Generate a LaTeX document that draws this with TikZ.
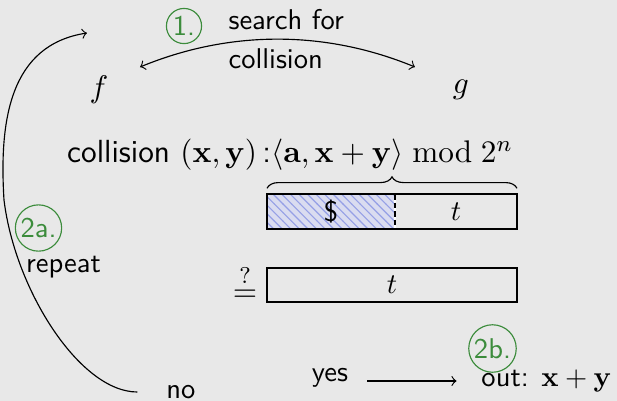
\documentclass[tikz,border=0pt]{standalone}
\usepackage{amsmath}
\usetikzlibrary{decorations.pathreplacing,patterns}
\renewcommand\familydefault{\sfdefault}
\definecolor{bggray}{RGB}{232,232,232}
\definecolor{numgreen}{RGB}{60,140,60}
\definecolor{hatchfill}{RGB}{218,220,240}
\definecolor{hatchline}{RGB}{150,160,230}
\begin{document}
\begin{tikzpicture}[x=0.35pt,y=-0.35pt,
  num/.style={circle,draw=numgreen,text=numgreen,inner sep=0.7pt,font=\sffamily},
  lbl/.style={font=\sffamily,inner sep=0pt},
  big/.style={font=\fontsize{11.2}{13}\selectfont,inner sep=0pt},
  cell/.style={draw,inner sep=0pt,outer sep=0pt,minimum height=35*0.35pt},
  hatched/.style={preaction={fill=hatchfill},pattern=north west lines,pattern color=hatchline}]
\fill[bggray] (0,0) rectangle (617,401);
\useasboundingbox (0,0) rectangle (617,401);

\node[num] (n1) at (184,26) {1.};
\node[lbl,anchor=west,align=left] (search) at (228,39) {search for\\[1.6pt]collision};
\node[big] (f) at (99,90) {$f$};
\node[big] (g) at (461,90) {$g$};
\coordinate (fa) at (140,67);
\coordinate (ga) at (415,67);
\draw[<->] (fa) .. controls (230,30) and (325,30) .. (ga);

\node[big] (coll) at (290,155) {collision $(\mathbf{x},\mathbf{y})$\,:$\langle\mathbf{a},\mathbf{x}+\mathbf{y}\rangle \bmod 2^n$};

\node[cell,hatched,minimum width=128*0.35pt] (rnd) at (331,211.5) {\$};
\node[cell,minimum width=122*0.35pt] (tag) at (456,211.5) {$t$};
\draw[white,semithick] (rnd.north east) -- (rnd.south east);
\draw[dashed,dash pattern=on 2pt off 1pt] (rnd.north east) -- (rnd.south east);
\draw[decorate,decoration={brace,amplitude=4pt}] ([yshift=2pt]rnd.north west) -- ([yshift=2pt]tag.north east);

\node[big] (eq) at (245,283) {$\stackrel{?}{=}$};
\node[cell,minimum width=250*0.35pt,minimum height=34*0.35pt] (tag2) at (392,285) {$t$};

\node[num] (n2a) at (38.5,228) {2a.};
\node[lbl] (rep) at (63.5,267) {repeat};
\node[lbl] (no) at (181,392) {no};
\node[lbl] (yes) at (330,378) {yes};
\node[num] (n2b) at (492.5,348.5) {2b.};
\node[lbl] (out) at (546.5,381) {out: $\mathbf{x}+\mathbf{y}$};

\draw[->] ([xshift=6.5pt]yes.east |- out.west) -- ([xshift=-8.5pt]out.west);
\coordinate (loopend) at (87,33);
\draw[->] ([xshift=-10pt]no.west) .. controls (80,392) and (15,290) .. (4,200)
  .. controls (-1,120) and (10,45) .. (loopend);
\end{tikzpicture}
\end{document}
